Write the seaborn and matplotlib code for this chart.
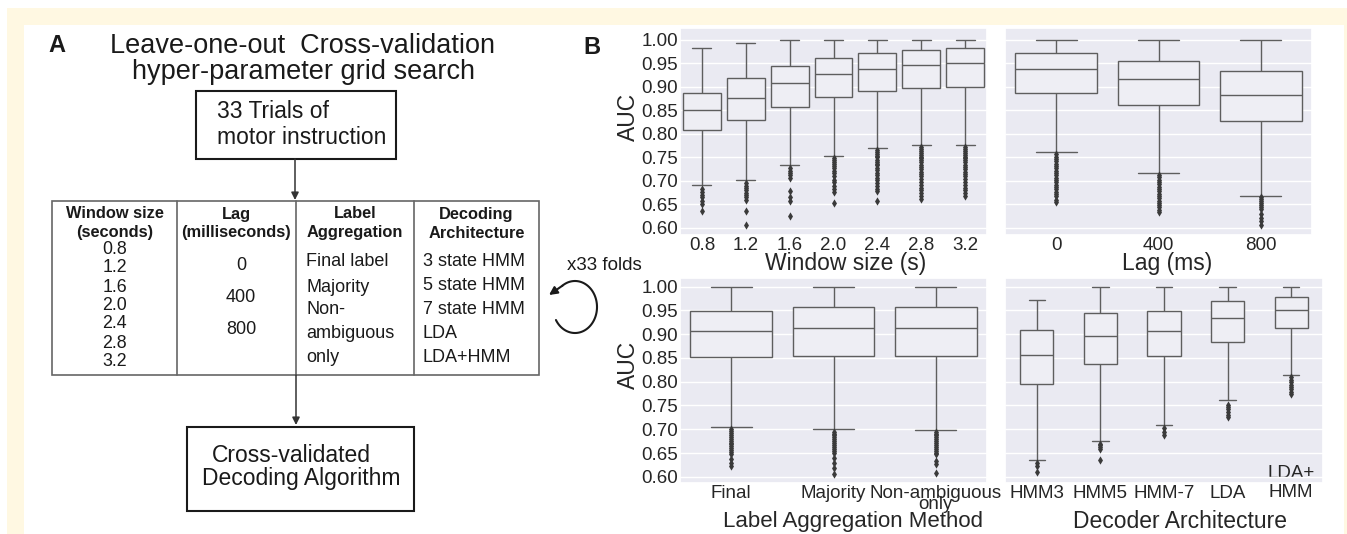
import numpy as np
import pandas as pd
import matplotlib
matplotlib.use("Agg")
import matplotlib.pyplot as plt
import seaborn as sns
from matplotlib.patches import Rectangle

# ---------------- data ----------------
window_labels = ["0.8", "1.2", "1.6", "2.0", "2.4", "2.8", "3.2"]
window_lo = [0.691, 0.701, 0.733, 0.753, 0.771, 0.776, 0.776]
window_q1 = [0.809, 0.830, 0.858, 0.878, 0.892, 0.898, 0.899]
window_med = [0.851, 0.876, 0.908, 0.928, 0.938, 0.947, 0.950]
window_q3 = [0.888, 0.919, 0.945, 0.962, 0.972, 0.978, 0.984]
window_hi = [0.984, 0.994, 0.999, 1.000, 1.000, 1.000, 1.000]
window_out = [
    [0.682, 0.676, 0.670, 0.665, 0.657, 0.650, 0.636],
    [0.695, 0.690, 0.685, 0.680, 0.675, 0.670, 0.665, 0.660, 0.636, 0.607],
    [0.727, 0.722, 0.717, 0.712, 0.707, 0.678, 0.666, 0.657, 0.625],
    [0.748, 0.744, 0.740, 0.736, 0.731, 0.727, 0.722, 0.716, 0.710, 0.703,
     0.697, 0.690, 0.683, 0.676, 0.653],
    [0.766, 0.762, 0.758, 0.754, 0.750, 0.745, 0.741, 0.737, 0.733, 0.728,
     0.723, 0.718, 0.713, 0.707, 0.701, 0.695, 0.689, 0.683, 0.678, 0.657],
    [0.772, 0.768, 0.764, 0.760, 0.756, 0.752, 0.748, 0.744, 0.740, 0.735,
     0.730, 0.725, 0.720, 0.715, 0.710, 0.704, 0.698, 0.692, 0.686, 0.680,
     0.674, 0.668, 0.662],
    [0.772, 0.768, 0.764, 0.760, 0.756, 0.752, 0.748, 0.744, 0.740, 0.735,
     0.730, 0.725, 0.720, 0.715, 0.710, 0.704, 0.698, 0.692, 0.686, 0.680,
     0.674, 0.668],
]

lag_labels = ["0", "400", "800"]
lag_lo = [0.762, 0.718, 0.669]
lag_q1 = [0.887, 0.861, 0.827]
lag_med = [0.938, 0.916, 0.883]
lag_q3 = [0.972, 0.956, 0.933]
lag_hi = [1.000, 1.000, 1.000]
lag_out = [
    [0.757, 0.752, 0.747, 0.742, 0.737, 0.732, 0.727, 0.722, 0.717, 0.712,
     0.707, 0.702, 0.697, 0.692, 0.687, 0.682, 0.677, 0.672, 0.668, 0.660, 0.655],
    [0.713, 0.708, 0.703, 0.698, 0.693, 0.688, 0.683, 0.678, 0.673, 0.668,
     0.663, 0.658, 0.653, 0.648, 0.645, 0.638, 0.633],
    [0.665, 0.661, 0.657, 0.653, 0.649, 0.645, 0.641, 0.630, 0.622, 0.615, 0.607],
]

agg_labels = ["Final", "Majority", "Non-ambiguous\nonly"]
agg_lo = [0.705, 0.700, 0.699]
agg_q1 = [0.851, 0.855, 0.855]
agg_med = [0.907, 0.913, 0.913]
agg_q3 = [0.949, 0.957, 0.957]
agg_hi = [1.000, 1.000, 1.000]
agg_out = [
    [0.700, 0.696, 0.692, 0.688, 0.684, 0.680, 0.676, 0.672, 0.668, 0.664,
     0.660, 0.656, 0.652, 0.648, 0.638, 0.630, 0.622],
    [0.695, 0.691, 0.687, 0.683, 0.679, 0.675, 0.671, 0.667, 0.663, 0.659,
     0.655, 0.650, 0.640, 0.630, 0.618, 0.606],
    [0.695, 0.691, 0.687, 0.683, 0.679, 0.675, 0.671, 0.667, 0.663, 0.659,
     0.655, 0.651, 0.648, 0.634, 0.626, 0.607],
]

dec_labels = ["HMM3", "HMM5", "HMM-7", "LDA", "LDA+\nHMM"]
dec_lo = [0.635, 0.676, 0.708, 0.761, 0.814]
dec_q1 = [0.796, 0.838, 0.853, 0.884, 0.913]
dec_med = [0.856, 0.897, 0.907, 0.934, 0.951]
dec_q3 = [0.908, 0.945, 0.949, 0.969, 0.978]
dec_hi = [0.971, 1.000, 1.000, 1.000, 1.000]
dec_out = [
    [0.628, 0.622, 0.610],
    [0.670, 0.666, 0.662, 0.659, 0.636],
    [0.703, 0.694, 0.688],
    [0.752, 0.747, 0.742, 0.737, 0.731, 0.726],
    [0.809, 0.804, 0.799, 0.794, 0.789, 0.784, 0.779, 0.775],
]

y_ticks = [0.60, 0.65, 0.70, 0.75, 0.80, 0.85, 0.90, 0.95, 1.00]

table_window = ["0.8", "1.2", "1.6", "2.0", "2.4", "2.8", "3.2"]
table_lag = ["0", "400", "800"]
table_agg = ["Final label", "Majority", "Non-", "ambiguous", "only"]
table_dec = ["3 state HMM", "5 state HMM", "7 state HMM", "LDA", "LDA+HMM"]

# ---------------- style ----------------
sns.set_theme(style="darkgrid")
plt.rcParams["font.family"] = ["Liberation Sans", "DejaVu Sans"]

W, H = 1347, 534
fig = plt.figure(figsize=(W / 100, H / 100), dpi=100, facecolor="white")

BOX_FILL = "#eeeef4"
LINE = "#5e5e5e"
FLIER = "#3a3a3a"
TXT = "#262626"
INK = "#1a1a1a"


def px_rect(x0, y0, x1, y1):
    return [x0 / W, 1 - y1 / H, (x1 - x0) / W, (y1 - y0) / H]


def box_frame(labels, lo, q1, med, q3, hi):
    rows = []
    for lab, a, b, c, d, e in zip(labels, lo, q1, med, q3, hi):
        for v in (a, b, c, d, e):
            rows.append((lab, v))
    return pd.DataFrame(rows, columns=["cat", "auc"])


def out_frame(labels, outs):
    rows = []
    for lab, vals in zip(labels, outs):
        for v in vals:
            rows.append((lab, v))
    return pd.DataFrame(rows, columns=["cat", "auc"])


def panel(rect, labels, lo, q1, med, q3, hi, outs, width, ylim, xlabel,
          xlab_xy, show_y, ylab_xy=None):
    ax = fig.add_axes(rect)
    sns.boxplot(data=box_frame(labels, lo, q1, med, q3, hi), x="cat", y="auc",
                order=labels, ax=ax, whis=(0, 100), width=width,
                color=BOX_FILL, saturation=1, linecolor=LINE, linewidth=1.0,
                showfliers=False)
    sns.stripplot(data=out_frame(labels, outs), x="cat", y="auc", order=labels,
                  ax=ax, jitter=False, marker="d", size=4.2, color=FLIER,
                  linewidth=0)
    ax.set_xlim(-0.5, len(labels) - 0.5)
    ax.set_ylim(*ylim)
    ax.set_yticks(y_ticks)
    ax.set_yticklabels([f"{t:.2f}" for t in y_ticks])
    ax.set_xticks(range(len(labels)))
    ax.set_xticklabels(labels)
    ax.tick_params(axis="both", length=0, labelsize=13.5, pad=1.2,
                   labelcolor=TXT)
    ax.set_xlabel(xlabel, fontsize=16.5, color=TXT)
    ax.xaxis.set_label_coords(*xlab_xy)
    if show_y:
        ax.set_ylabel("AUC", fontsize=16.5, color=TXT)
        ax.yaxis.set_label_coords(*ylab_xy)
    else:
        ax.set_ylabel("")
        ax.tick_params(axis="y", labelleft=False)
    return ax


# ---------------- Panel A (diagram) ----------------
axA = fig.add_axes([0, 0, 1, 1])
axA.set_xlim(0, W)
axA.set_ylim(H, 0)
axA.axis("off")
axA.patch.set_alpha(0)

YEL = "#fff8e2"
axA.add_patch(Rectangle((7, 8), W - 7, 17, color=YEL, lw=0, zorder=0))
axA.add_patch(Rectangle((7, 8), 17, H - 8, color=YEL, lw=0, zorder=0))
axA.add_patch(Rectangle((1344, 8), 3, H - 8, color=YEL, lw=0, zorder=0))

axA.text(57, 46, "A", fontsize=17, fontweight="bold", ha="center",
         va="center", color=INK)
axA.text(303, 46, "Leave-one-out  Cross-validation", fontsize=19.5,
         ha="center", va="center", color=INK)
axA.text(303, 72, "hyper-parameter grid search", fontsize=19.5,
         ha="center", va="center", color=INK)

axA.add_patch(Rectangle((196, 91), 200, 68, fill=False, ec=INK, lw=1.5))
axA.text(217, 112, "33 Trials of", fontsize=16.5, ha="left", va="center",
         color=INK)
axA.text(217, 137, "motor instruction", fontsize=16.5, ha="left",
         va="center", color=INK)

arrow_kw = dict(arrowstyle="-|>", color="#333333", lw=1.1, mutation_scale=11,
                shrinkA=0, shrinkB=0)
axA.annotate("", xy=(295, 200), xytext=(295, 159), arrowprops=arrow_kw)
axA.annotate("", xy=(296, 425), xytext=(296, 375), arrowprops=arrow_kw)

# table
TL = "#666666"
axA.add_patch(Rectangle((52, 201), 487, 174, fill=False, ec=TL, lw=1.2))
for xv in (177, 296, 414):
    axA.plot([xv, xv], [201, 375], color=TL, lw=1.2)

hdr = [("Window size", "(seconds)", 114.5), ("Lag", "(milliseconds)", 236.5),
       ("Label", "Aggregation", 355), ("Decoding", "Architecture", 476.5)]
for l1, l2, xc in hdr:
    axA.text(xc, 214, l1, fontsize=11.8, fontweight="bold", ha="center",
             va="center", color=INK)
    axA.text(xc, 233, l2, fontsize=11.8, fontweight="bold", ha="center",
             va="center", color=INK)

for s, yv in zip(table_window, [249, 268, 287, 306, 324, 343, 361]):
    axA.text(114.5, yv, s, fontsize=12.8, ha="center", va="center",
             color=INK)
for s, yv in zip(table_lag, [265, 297, 329]):
    axA.text(241, yv, s, fontsize=13, ha="center", va="center",
             color=INK)
for s, yv in zip(table_agg, [261, 287, 310, 334, 357]):
    axA.text(306, yv, s, fontsize=13, ha="left", va="center",
             color=INK)
for s, yv in zip(table_dec, [261, 285, 310, 334, 357]):
    axA.text(423, yv, s, fontsize=13, ha="left", va="center",
             color=INK)

# circular arrow (x33 folds)
th = np.deg2rad(np.linspace(150, -125, 120))
axA.plot(575 + 22 * np.cos(th), 307 + 26 * np.sin(th), color=INK, lw=1.5)
ex, ey = 575 + 22 * np.cos(th[-1]), 307 + 26 * np.sin(th[-1])
axA.annotate("", xy=(549, 295), xytext=(ex, ey),
             arrowprops=dict(arrowstyle="-|>", color=INK, lw=1.5,
                             mutation_scale=12, shrinkA=0, shrinkB=0))
axA.text(567, 266, "x33 folds", fontsize=13.5, ha="left", va="center",
         color=INK)

axA.add_patch(Rectangle((187, 427), 227, 84, fill=False, ec=INK, lw=1.5))
axA.text(212, 455, "Cross-validated", fontsize=16.5, ha="left", va="center",
         color=INK)
axA.text(202, 478, "Decoding Algorithm", fontsize=16.5, ha="left",
         va="center", color=INK)

axA.text(592, 47, "B", fontsize=17, fontweight="bold", ha="center",
         va="center", color=INK)

# ---------------- Panel B (box plots) ----------------
YL_TOP = (0.585, 1.0255)
YL_BOT = (0.587, 1.018)

panel(px_rect(680, 28, 987, 235), window_labels, window_lo, window_q1,
      window_med, window_q3, window_hi, window_out, 0.86, YL_TOP,
      "Window size (s)", (0.54, -0.08), True, (-0.13, 0.57))
panel(px_rect(1005, 28, 1312, 235), lag_labels, lag_lo, lag_q1, lag_med,
      lag_q3, lag_hi, lag_out, 0.8, YL_TOP, "Lag (ms)", (0.528, -0.08),
      False)
axC = panel(px_rect(680, 278, 987, 483), agg_labels, agg_lo, agg_q1, agg_med,
            agg_q3, agg_hi, agg_out, 0.8, YL_BOT, "Label Aggregation Method",
            (0.565, -0.135), True, (-0.13, 0.576))
axD = panel(px_rect(1005, 278, 1323, 483), dec_labels, dec_lo, dec_q1,
            dec_med, dec_q3, dec_hi, dec_out, 0.52, YL_BOT,
            "Decoder Architecture", (0.55, -0.13), False)
axC.xaxis.label.set_fontsize(16)

axC.get_xticklabels()[2].set_linespacing(0.58)
lbl = axD.get_xticklabels()[4]
lbl.set_y(0.098)

fig.savefig("out.png", dpi=100, facecolor="white")
